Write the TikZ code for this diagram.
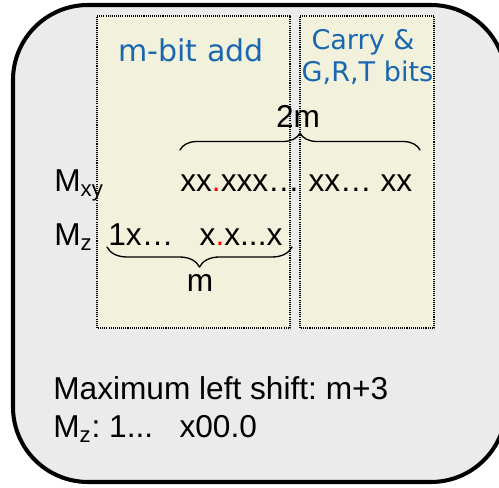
\documentclass[tikz,border=0pt]{standalone}
\usepackage{fontspec}
\setmainfont{Liberation Sans}
\newfontfamily\headfont{DejaVu Sans}
\usetikzlibrary{decorations.pathreplacing}
\frenchspacing

\definecolor{panelgray}{HTML}{EBEBEB}
\definecolor{fieldtan}{HTML}{F2F2DC}
\definecolor{headblue}{HTML}{1A66B0}

\begin{document}
\begin{tikzpicture}[
  line cap=round,
  line join=round,
  every node/.style={inner sep=0pt,font=\fontsize{18}{21}\selectfont},
  panel/.style={draw,fill=panelgray,line width=2.3pt,rounded corners=1.5cm},
  field/.style={draw,fill=fieldtan,line width=0.8pt,dash pattern=on 0.6pt off 0.6pt,line cap=butt},
  head/.style={text=headblue,font=\headfont\fontsize{17.1}{20}\selectfont},
  headsmall/.style={text=headblue,font=\headfont\fontsize{15.4}{18}\selectfont},
  span/.style={decorate,line width=0.75pt}
]
\useasboundingbox (0,0) rectangle (9.98,9.76);

% ------------------------------------------------------------------
% Panel and fields
% ------------------------------------------------------------------
\draw[panel] (0.26,0.12) rectangle (10.12,9.66);

\coordinate (L1) at (1.94,3.20);
\coordinate (L2) at (5.80,9.44);
\coordinate (R1) at (6.00,3.20);
\coordinate (R2) at (8.68,9.44);

\draw[field] (L1) rectangle (L2);
\draw[field] (R1) rectangle (R2);

\node[head,anchor=base] (addhead) at (3.82,8.52) {m-bit add};
\node[headsmall,anchor=base] (carryhead) at (7.26,8.76) {Carry \&};
\node[headsmall,anchor=base] (grthead) at (7.35,8.12) {G,R,T bits};

% ------------------------------------------------------------------
% Operands
% ------------------------------------------------------------------
\node[anchor=base west] (mxy) at (1.08,5.92) {M\textsubscript{xy}};
\node[anchor=base west] (mxybits) at (3.60,5.92)
  {xx{\color{red}.}xxx… xx… xx};

\node[anchor=base west] (mz) at (1.08,4.84) {M\textsubscript{z}};
\node[anchor=base west] (mzbits) at (2.16,4.84)
  {1x…~~~x{\color{red}.}x...x};

\coordinate (T1) at (3.60,6.76);
\coordinate (T2) at (8.40,6.76);
\draw[span,decoration={brace,amplitude=0.34cm}] (T1) -- (T2);
\node[anchor=base] (twom) at (5.96,7.20) {2m};

\coordinate (B1) at (5.84,4.82);
\coordinate (B2) at (2.14,4.82);
\draw[span,decoration={brace,amplitude=0.40cm}] (B1) -- (B2);
\node[anchor=base] (onem) at (4.00,3.92) {m};

% ------------------------------------------------------------------
% Shift note
% ------------------------------------------------------------------
\node[anchor=base west] (shift) at (1.06,1.76) {Maximum left shift: m+3};
\node[anchor=base west] (mzshift) at (1.06,1.00)
  {M\textsubscript{z}: 1...~~~x00.0};

\end{tikzpicture}
\end{document}
